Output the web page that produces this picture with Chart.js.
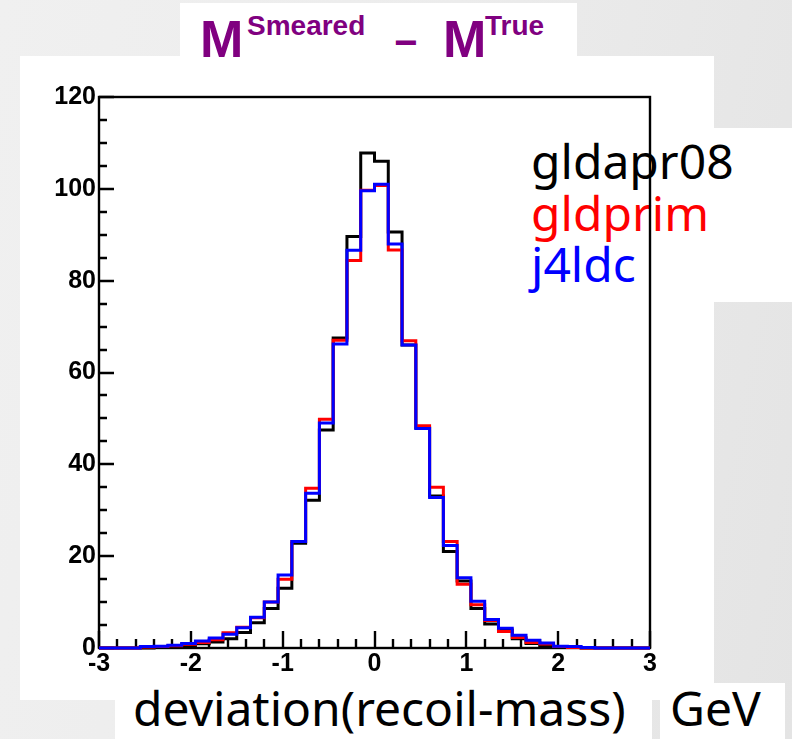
<!DOCTYPE html>
<html>
<head>
<meta charset="utf-8">
<title>deviation(recoil-mass)</title>
<script src="https://cdn.jsdelivr.net/npm/chart.js@4.4.1/dist/chart.umd.min.js"></script>
<style>
    html, body { margin: 0; padding: 0; }
    body {
        width: 792px; height: 739px; position: relative; overflow: hidden;
        background: linear-gradient(100deg, #f0f0f0 0%, #ececec 50%, #e4e4e4 100%);
    }
    .panel { position: absolute; background: #fff; }
    .txt { position: absolute; line-height: 1; white-space: nowrap; }
    .title { color: #800080; font-family: "Liberation Sans", Arial, sans-serif; font-weight: bold; }
    .big { font-family: "Liberation Sans Narrow", "Liberation Sans", sans-serif; font-size: 52px; }
    .sup { font-size: 28px; }
    .label { font-family: "Noto Sans", sans-serif; font-size: 48px; }
    #chart { position: absolute; left: 0; top: 0; }
</style>
</head>
<body>
<div class="panel" style="left:180px; top:3px; width:397px; height:60px;"></div>
<div class="panel" style="left:20px; top:56px; width:694px; height:644px;"></div>
<div class="panel" style="left:500px; top:128px; width:292px; height:174px;"></div>
<div class="panel" style="left:115px; top:688px; width:537px; height:51px;"></div>
<div class="panel" style="left:660px; top:683px; width:125px; height:56px;"></div>

<div class="txt title big" style="left:200px; top:13px;">M</div>
<div class="txt title sup" style="left:247px; top:12px;">Smeared</div>
<div class="txt title" style="left:394px; top:22px; font-size:40px;">−</div>
<div class="txt title big" style="left:443px; top:13px;">M</div>
<div class="txt title sup" style="left:485px; top:12px;">True</div>

<div class="txt label" style="left:531px; top:137px; color:#000;">gldapr08</div>
<div class="txt label" style="left:531px; top:189px; color:#ff0000;">gldprim</div>
<div class="txt label" style="left:531px; top:240px; color:#0000ff;">j4ldc</div>

<div class="txt label" style="left:133px; top:684px; color:#000;">deviation(recoil-mass)</div>
<div class="txt label" style="left:670px; top:684px; color:#000;">GeV</div>

<canvas id="chart" width="792" height="739"></canvas>

<script>
// Variables

var X_MIN = -3;
var X_MAX = 3;
var BIN_WIDTH = 0.15;

// bin contents, 40 bins of 0.15 GeV from -3 to 3
var gldapr08 = [
    0, 0, 0, 0, 0.1, 0.2, 0.5, 0.9, 1.3, 2.0,
    3.4, 5.5, 8.6, 13.0, 22.8, 32.2, 47.5, 67.5, 89.6, 107.8,
    106.0, 90.6, 66.0, 47.9, 33.1, 21.0, 14.6, 8.6, 5.2, 3.9,
    2.0, 1.0, 0.5, 0.2, 0.1, 0, 0, 0, 0, 0
];
var gldprim = [
    0, 0, 0, 0.2, 0.3, 0.5, 0.8, 1.2, 1.8, 3.3,
    4.5, 6.6, 10.0, 15.0, 23.2, 34.8, 49.8, 67.0, 84.4, 99.7,
    100.7, 86.7, 66.9, 48.4, 35.0, 23.2, 13.9, 9.4, 6.0, 3.6,
    2.3, 1.2, 0.85, 0.3, 0.1, 0, 0, 0, 0, 0
];
var j4ldc = [
    0, 0, 0, 0.3, 0.4, 0.6, 1.0, 1.5, 2.2, 3.0,
    4.4, 6.7, 10.0, 15.9, 23.2, 33.7, 49.0, 66.2, 86.6, 99.6,
    101.0, 88.0, 66.0, 47.8, 32.8, 22.3, 15.3, 10.2, 6.2, 4.3,
    2.8, 1.7, 1.1, 0.4, 0.3, 0.1, 0, 0, 0, 0
];

var yTicks = [0, 20, 40, 60, 80, 100, 120];
var xTicks = [-3, -2, -1, 0, 1, 2, 3];


// Methods

// turn bin contents into points at the bin edges (last edge repeats last bin)
function toSteps(bins) {
    var pts = [];
    for (var i = 0; i < bins.length; i++) {
        pts.push({ x: X_MIN + i * BIN_WIDTH, y: bins[i] });
    }
    pts.push({ x: X_MAX, y: bins[bins.length - 1] });
    return pts;
}

function histo(name, bins, color, order) {
    return {
        label: name,
        data: toSteps(bins),
        borderColor: color,
        borderWidth: 3,
        stepped: 'before',
        pointRadius: 0,
        fill: false,
        order: order,
        clip: 6
    };
}

// ROOT style frame with ticks pointing into the pad
var rootFrame = {
    id: 'rootFrame',
    beforeDatasetsDraw: function (chart) {
        var ctx = chart.ctx;
        var a = chart.chartArea;
        var x = chart.scales.x;
        var y = chart.scales.y;
        var i, px, py, len;

        ctx.save();
        ctx.strokeStyle = '#000';
        ctx.lineWidth = 2.4;
        ctx.strokeRect(a.left, a.top, a.right - a.left, a.bottom - a.top);

        ctx.beginPath();
        for (i = 0; i <= 30; i++) {
            px = Math.round(x.getPixelForValue(X_MIN + i * 0.2));
            len = (i % 5 === 0) ? 17 : 9;
            ctx.moveTo(px, a.bottom);
            ctx.lineTo(px, a.bottom - len);
        }
        for (i = 0; i <= 24; i++) {
            py = Math.round(y.getPixelForValue(i * 5));
            len = (i % 4 === 0) ? 15 : 8;
            ctx.moveTo(a.left, py);
            ctx.lineTo(a.left + len, py);
        }
        ctx.stroke();
        ctx.restore();
    }
};

function init(canvas) {
    var tickFont = { family: 'Arial, "Liberation Sans", sans-serif', size: 25, weight: 'bold' };

    var chart = new Chart(canvas, {
        type: 'line',
        data: {
            datasets: [
                histo('gldapr08', gldapr08, '#000000', 3),
                histo('gldprim', gldprim, '#ff0000', 2),
                histo('j4ldc', j4ldc, '#0000ff', 1)
            ]
        },
        options: {
            responsive: false,
            animation: false,
            devicePixelRatio: 1,
            layout: { padding: { left: 0, top: 97, right: 142, bottom: 0 } },
            plugins: {
                legend: { display: false },
                tooltip: { enabled: false }
            },
            scales: {
                x: {
                    type: 'linear',
                    min: X_MIN,
                    max: X_MAX,
                    grid: { display: false, drawTicks: false },
                    border: { display: false },
                    afterBuildTicks: function (scale) {
                        scale.ticks = xTicks.map(function (v) { return { value: v }; });
                    },
                    afterFit: function (scale) { scale.height = 91; },
                    ticks: { color: '#000', font: tickFont, padding: 1, maxRotation: 0 }
                },
                y: {
                    min: 0,
                    max: 120,
                    grid: { display: false, drawTicks: false },
                    border: { display: false },
                    afterBuildTicks: function (scale) {
                        scale.ticks = yTicks.map(function (v) { return { value: v }; });
                    },
                    afterFit: function (scale) { scale.width = 99; },
                    ticks: { color: '#000', font: tickFont, padding: 3 }
                }
            }
        },
        plugins: [rootFrame]
    });

    return chart;
}


// Events

init(document.getElementById('chart'));
</script>
</body>
</html>
